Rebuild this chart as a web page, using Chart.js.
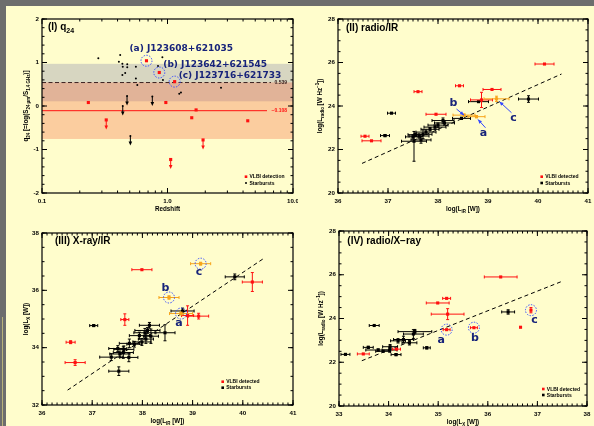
<!DOCTYPE html>
<html>
<head>
<meta charset="utf-8">
<script src="https://cdn.jsdelivr.net/npm/chart.js@4.4.1/dist/chart.umd.min.js"></script>
<style>
body { margin: 0; width: 594px; height: 426px; overflow: hidden; position: relative; background: #6d6d6d; }
#paper { position: absolute; left: 6px; top: 6px; width: 588px; height: 420px; background: #fffdcc; }
#streak { position: absolute; left: 2px; top: 317px; width: 1px; height: 109px; background: #b9b37a; }
canvas { position: absolute; }
</style>
</head>
<body>
<div id="paper"></div>
<div id="streak"></div>
<canvas id="c1"></canvas>
<canvas id="c2"></canvas>
<canvas id="c3"></canvas>
<canvas id="c4"></canvas>
<script>
// ---- (I) q24 vs redshift : [z, q24]
const q24Starburst = [[0.281,1.10],[0.42,1.17],[0.41,1.02],[0.437,0.97],[0.478,0.96],[0.478,0.89],[0.44,0.90],
  [0.56,0.90],[0.46,0.76],[0.437,0.71],[0.56,0.63],[0.575,0.48],[0.91,1.12],[0.84,0.92],[0.92,0.60],
  [2.67,0.42],[1.24,0.28],[1.28,0.31]];
const q24StarburstLimit = [[0.476,0.23],[0.757,0.22],[0.44,0.0],[0.506,-0.69]];
const q24Vlbi = [[0.234,0.08],[0.97,0.08],[1.69,-0.09],[1.56,-0.27],[4.36,-0.34]];
const q24VlbiLimit = [[0.325,-0.32],[1.92,-0.78],[1.06,-1.23]];
const q24Marked = [[0.68,1.04],[0.86,0.77],[1.14,0.56]];
const q24Names = ['(a) J123608+621035', '(b) J123642+621545', '(c) J123716+621733'];
const q24Means = [0.539, -0.108];      // starburst mean, VLBI mean
const q24Spread = [0.43, 0.65];        // half widths of the shaded bands

// ---- (II) radio/IR : [logLIR, logLradio, xerr, yerr]
const radioIrVlbi = [[40.13,25.93,0.19,0],[39.08,24.76,0.18,0],[38.43,24.93,0.08,0],[37.6,24.66,0.08,0],
  [38.87,24.28,0.22,0.35],[37.96,23.62,0.2,0],[36.54,22.61,0.08,0],[36.67,22.4,0.19,0]];
const radioIrMarked = [[38.77,23.51,0.17,0.05],[38.52,23.58,0.22,0.05],[39.17,24.33,0.25,0.12]];
const radioIrStarburst = [[39.81,24.32,0.2,0.15],[37.07,23.67,0.08,0],[36.94,22.64,0.09,0.05],[38.81,24.2,0.2,0],
  [38.47,23.43,0.18,0.05],[38.1,23.33,0.22,0.12],[38.13,23.22,0.2,0.1],[38.0,23.12,0.2,0.1],
  [37.94,23.03,0.22,0.1],[37.84,22.93,0.18,0.08],[37.76,22.8,0.2,0.1],[37.7,22.7,0.18,0.2],
  [37.62,22.62,0.2,0.1],[37.55,22.68,0.15,0.08],[37.5,22.58,0.15,0.1],[37.66,22.44,0.2,0.15],
  [37.52,22.38,0.25,[0.92,0.45]]];
const radioIrFit = [[36.48,21.36],[40.47,25.47]];

// ---- (III) X-ray/IR : [logLIR, logLX, xerr, yerr]
const xrayIrVlbi = [[37.99,36.72,0.2,0],[40.19,36.29,0.2,0.33],[37.65,34.98,0.08,0.2],[38.9,35.12,0.12,0.34],
  [39.12,35.1,0.2,0.1],[36.57,34.19,0.09,0.05],[36.66,33.48,0.2,0.1]];
const xrayIrMarked = [[38.77,35.19,0.23,0.05],[38.53,35.75,0.2,0.06],[39.16,36.93,0.2,0.05]];
const xrayIrStarburst = [[39.84,36.47,0.19,0.1],[37.03,34.77,0.08,0.03],[38.8,35.28,0.23,0.1],[38.45,34.52,0.2,0.28],
  [37.53,33.18,0.2,0.15],[37.38,33.67,0.23,0.12],[37.51,33.97,0.18,0.1],[37.63,33.94,0.2,0.12],
  [37.74,34.15,0.2,0.15],[37.84,34.12,0.15,0.1],[37.94,34.42,0.2,0.12],[38.05,34.52,0.22,0.15],
  [38.14,34.78,0.2,0.1],[38.07,34.3,0.15,0.15],[38.17,34.4,0.15,0.25],[37.99,34.2,0.18,0.12],
  [37.55,33.78,0.2,0.1],[37.73,33.66,0.18,0.15],[37.62,33.83,0.2,0.2],[38.1,34.6,0.25,0.1]];
const xrayIrFit = [[36.51,32.52],[40.44,37.14]];

// ---- (IV) radio/X-ray : [logLX, logLradio, xerr, yerr]
const radioXVlbi = [[36.26,25.9,0.33,0],[34.99,24.71,0.23,0],[35.17,24.92,0.08,0],[35.19,24.2,0.33,0.25],
  [36.66,23.6,0,0],[34.16,22.6,0.08,0],[33.49,22.38,0.12,0]];
const radioXMarked = [[35.17,23.49,0.07,0],[35.72,23.58,0.07,0],[36.87,24.38,0,0.12]];
const radioXStarburst = [[36.41,24.3,0.13,0.1],[33.71,23.68,0.1,0],[33.13,22.36,0.09,0],[34.77,22.66,0.07,0.05],
  [34.15,22.35,0.1,0.05],[34.5,23.29,0.2,0.2],[34.53,23.4,0.34,0.1],[34.3,23.04,0.2,0.15],
  [34.42,22.89,0.15,0.1],[34.19,22.98,0.15,0.1],[34.03,22.71,0.15,0.1],[34.02,22.56,0.15,0.1],
  [33.79,22.56,0.25,0.05],[33.59,22.68,0.1,0.05],[33.89,22.5,0.15,0]];
const radioXFit = [[33.46,22.07],[37.52,25.72]];

const abc = ['a', 'b', 'c'];

// ---- styling
const RED = '#ff1010', ORANGE = '#f7a51c', NAVY = '#17237a', BLUE = '#3347ff';
const FONT = '"Liberation Sans", Arial, sans-serif';
const FONT2 = '"DejaVu Sans", sans-serif';

const pts = rows => rows.map(r => ({ x: r[0], y: r[1] }));
const errs = rows => rows.map(r => [r[2] || 0, r[3] || 0]);
const lo = e => Array.isArray(e) ? e[0] : e;
const hi = e => Array.isArray(e) ? e[1] : e;

function rich(ctx, segs, x, y, size, color, align, rot, family) {
  ctx.save();
  ctx.translate(x, y);
  if (rot) ctx.rotate(rot);
  const f = s => 'bold ' + (s[1] ? size * 0.7 : size) + 'px ' + (family || FONT);
  let w = 0;
  segs.forEach(s => { ctx.font = f(s); w += ctx.measureText(s[0]).width; });
  let cx = align === 'center' ? -w / 2 : (align === 'right' ? -w : 0);
  ctx.fillStyle = color;
  ctx.textBaseline = 'middle';
  ctx.textAlign = 'left';
  segs.forEach(s => {
    ctx.font = f(s);
    ctx.fillText(s[0], cx, (s[1] || 0) * size * 0.38);
    cx += ctx.measureText(s[0]).width;
  });
  ctx.restore();
}

function arrowHead(ctx, x, y, ang, len, half) {
  ctx.beginPath();
  ctx.moveTo(x, y);
  ctx.lineTo(x - len * Math.cos(ang) + half * Math.sin(ang), y - len * Math.sin(ang) - half * Math.cos(ang));
  ctx.lineTo(x - len * Math.cos(ang) - half * Math.sin(ang), y - len * Math.sin(ang) + half * Math.cos(ang));
  ctx.closePath();
  ctx.fill();
}

const decor = {
  id: 'decor',
  beforeDatasetsDraw(chart, args, o) {
    const { ctx, chartArea: a, scales: { y } } = chart;
    (o.bands || []).forEach(b => {
      const y1 = y.getPixelForValue(b.from), y2 = y.getPixelForValue(b.to);
      ctx.fillStyle = b.color;
      ctx.fillRect(a.left, y2, a.right - a.left, y1 - y2);
    });
    (o.hlines || []).forEach(h => {
      const py = y.getPixelForValue(h.value);
      ctx.save();
      ctx.strokeStyle = h.color;
      ctx.lineWidth = 1;
      ctx.setLineDash(h.dash || []);
      ctx.beginPath();
      ctx.moveTo(a.left, py);
      ctx.lineTo(a.right - h.gap, py);
      ctx.stroke();
      ctx.restore();
      ctx.fillStyle = h.color;
      ctx.font = 'bold 5px ' + FONT;
      ctx.textAlign = 'right';
      ctx.textBaseline = 'middle';
      ctx.fillText(h.tag, a.right - 6, py);
    });
  },
  beforeDatasetDraw(chart, args) {
    const ds = chart.data.datasets[args.index];
    const { ctx, scales: { x, y } } = chart;
    ctx.save();
    ctx.strokeStyle = ds.borderColor;
    ctx.fillStyle = ds.borderColor;
    ctx.lineWidth = 1;
    if (ds.err) {
      ds.data.forEach((p, i) => {
        const [xe, ye] = ds.err[i];
        const px = x.getPixelForValue(p.x), py = y.getPixelForValue(p.y);
        ctx.beginPath();
        if (xe) {
          const x1 = x.getPixelForValue(p.x - lo(xe)), x2 = x.getPixelForValue(p.x + hi(xe));
          ctx.moveTo(x1, py); ctx.lineTo(x2, py);
          ctx.moveTo(x1, py - 1.5); ctx.lineTo(x1, py + 1.5);
          ctx.moveTo(x2, py - 1.5); ctx.lineTo(x2, py + 1.5);
        }
        if (ye) {
          const y1 = y.getPixelForValue(p.y - lo(ye)), y2 = y.getPixelForValue(p.y + hi(ye));
          ctx.moveTo(px, y1); ctx.lineTo(px, y2);
          ctx.moveTo(px - 1.5, y1); ctx.lineTo(px + 1.5, y1);
          ctx.moveTo(px - 1.5, y2); ctx.lineTo(px + 1.5, y2);
        }
        ctx.stroke();
      });
    }
    if (ds.limit) {
      ds.data.forEach(p => {
        const px = x.getPixelForValue(p.x), py = y.getPixelForValue(p.y);
        ctx.beginPath();
        ctx.moveTo(px, py); ctx.lineTo(px, py + 7);
        ctx.stroke();
        arrowHead(ctx, px, py + 9.5, Math.PI / 2, 4, 1.8);
      });
    }
    ctx.restore();
  },
  afterDatasetsDraw(chart, args, o) {
    const { ctx, chartArea: a, scales: { x, y } } = chart;
    ctx.save();
    // dotted circles
    chart.data.datasets.forEach(ds => {
      if (!ds.circled) return;
      ds.data.forEach(p => {
        ctx.strokeStyle = BLUE;
        ctx.lineWidth = 1;
        ctx.setLineDash([1.4, 1.4]);
        ctx.beginPath();
        ctx.arc(x.getPixelForValue(p.x), y.getPixelForValue(p.y), 5.5, 0, Math.PI * 2);
        ctx.stroke();
      });
    });
    ctx.setLineDash([]);
    // arrows to sources
    (o.arrows || []).forEach(ar => {
      const x1 = x.getPixelForValue(ar.from[0]), y1 = y.getPixelForValue(ar.from[1]);
      const x2 = x.getPixelForValue(ar.to[0]), y2 = y.getPixelForValue(ar.to[1]);
      ctx.strokeStyle = BLUE; ctx.fillStyle = BLUE; ctx.lineWidth = 1;
      ctx.beginPath(); ctx.moveTo(x1, y1); ctx.lineTo(x2, y2); ctx.stroke();
      arrowHead(ctx, x2, y2, Math.atan2(y2 - y1, x2 - x1), 4, 1.8);
    });
    // notes
    (o.notes || []).forEach(n => {
      ctx.fillStyle = NAVY;
      ctx.font = 'bold ' + n.size + 'px ' + FONT2;
      ctx.textAlign = n.align || 'center';
      ctx.textBaseline = 'middle';
      ctx.fillText(n.text, x.getPixelForValue(n.x) + (n.dx || 0), y.getPixelForValue(n.y) + (n.dy || 0));
    });
    // frame
    ctx.strokeStyle = '#000';
    ctx.lineWidth = 1.2;
    ctx.strokeRect(a.left, a.top, a.right - a.left, a.bottom - a.top);
    ctx.lineWidth = 1;
    const tickX = (v, len) => {
      const px = x.getPixelForValue(v);
      ctx.moveTo(px, a.bottom); ctx.lineTo(px, a.bottom - len);
      ctx.moveTo(px, a.top); ctx.lineTo(px, a.top + len);
    };
    const tickY = (v, len) => {
      const py = y.getPixelForValue(v);
      ctx.moveTo(a.left, py); ctx.lineTo(a.left + len, py);
      ctx.moveTo(a.right, py); ctx.lineTo(a.right - len, py);
    };
    ctx.beginPath();
    x.ticks.forEach(t => tickX(t.value, 5));
    y.ticks.forEach(t => tickY(t.value, 5));
    if (o.xMinor === 'log') {
      for (let d = x.min; d < x.max * 0.999; d *= 10)
        for (let k = 2; k <= 9; k++) tickX(d * k, 2.5);
    } else {
      const n = Math.round((x.max - x.min) / o.xMinor);
      for (let k = 0; k <= n; k++) tickX(x.min + k * o.xMinor, 2.5);
    }
    const ny = Math.round((y.max - y.min) / o.yMinor);
    for (let k = 0; k <= ny; k++) tickY(y.min + k * o.yMinor, 2.5);
    ctx.stroke();
    // panel label and axis titles
    rich(ctx, o.label, a.left + o.labelAt[0], a.top + o.labelAt[1], 10, '#000', 'left');
    rich(ctx, o.xTitle, (a.left + a.right) / 2, a.bottom + 16.5, 6.3, '#000', 'center');
    rich(ctx, o.yTitle, a.left - o.yTitleGap, (a.top + a.bottom) / 2, 6.3, '#000', 'center', -Math.PI / 2);
    // legend
    const L = o.legend;
    L.items.forEach((it, i) => {
      const lx = a.right - L.dx, ly = a.bottom - L.dy + i * L.step;
      ctx.fillStyle = it.color;
      if (it.dot) { ctx.beginPath(); ctx.arc(lx, ly, 1, 0, Math.PI * 2); ctx.fill(); }
      else ctx.fillRect(lx - 1.3, ly - 1.3, 2.6, 2.6);
      ctx.fillStyle = '#000';
      ctx.font = 'bold 5px ' + FONT;
      ctx.textAlign = 'left';
      ctx.textBaseline = 'middle';
      ctx.fillText(it.label, lx + 3.5, ly + 0.3);
    });
    ctx.restore();
  }
};

function ptSet(rows, color, extra) {
  return Object.assign({
    data: pts(rows), err: errs(rows), borderColor: color, backgroundColor: color,
    pointStyle: 'rect', pointRadius: 2.2, borderWidth: 0
  }, extra || {});
}

function fitSet(rows) {
  return {
    data: pts(rows), showLine: true, pointRadius: 0, borderColor: '#000', borderWidth: 1,
    borderDash: [4, 3], order: 9
  };
}

function makePanel(id, box, area, xs, ys, datasets, opts) {
  const cv = document.getElementById(id);
  cv.style.left = box[0] + 'px';
  cv.style.top = box[1] + 'px';
  cv.width = box[2] - box[0];
  cv.height = box[3] - box[1];
  const yW = area[0] - box[0], xH = box[3] - area[3];
  const tickFont = { family: FONT, size: 6.2, weight: 'bold' };
  new Chart(cv, {
    type: 'scatter',
    data: { datasets },
    options: {
      responsive: false,
      animation: false,
      events: [],
      layout: { padding: { top: area[1] - box[1], right: box[2] - area[2], left: 0, bottom: 0 } },
      plugins: { legend: { display: false }, tooltip: { enabled: false }, decor: opts },
      scales: {
        x: Object.assign({
          grid: { display: false, drawTicks: false },
          border: { display: false },
          afterFit(s) { s.height = xH; s.paddingLeft = 0; s.paddingRight = 0; }
        }, xs, { ticks: Object.assign({ font: tickFont, color: '#000', padding: 5, maxRotation: 0, autoSkip: false }, xs.ticks || {}) }),
        y: Object.assign({
          grid: { display: false, drawTicks: false },
          border: { display: false },
          afterFit(s) { s.width = yW; s.paddingTop = 0; s.paddingBottom = 0; }
        }, ys, { ticks: Object.assign({ font: tickFont, color: '#000', padding: 3, autoSkip: false }, ys.ticks || {}) })
      }
    },
    plugins: [decor]
  });
}

const legendVlbi = (word) => [{ label: 'VLBI ' + word, color: RED }, { label: 'Starbursts', color: '#000', dot: word === 'detection' }];
const radioTitle = [['log(L', 0], ['radio', 1], [' [W Hz', 0], ['\u22121', -1], ['])', 0]];

// (I)
makePanel('c1', [6, 6, 298, 214], [42, 19, 293, 193],
  { type: 'logarithmic', min: 0.1, max: 10,
    afterBuildTicks(s) { s.ticks = [0.1, 1, 10].map(v => ({ value: v })); },
    ticks: { callback: v => Number(v).toFixed(1) } },
  { min: -2, max: 2, ticks: { stepSize: 1 } },
  [
    Object.assign(ptSet(q24Marked.map(r => [r[0], r[1]]), RED), { err: null, circled: true, order: 0 }),
    Object.assign(ptSet(q24Vlbi, RED), { err: null, order: 1 }),
    Object.assign(ptSet(q24VlbiLimit, RED), { err: null, limit: true, order: 1 }),
    { data: pts(q24Starburst), pointRadius: 1, backgroundColor: '#000', borderColor: '#000', borderWidth: 0, order: 2 },
    { data: pts(q24StarburstLimit), pointRadius: 1, backgroundColor: '#000', borderColor: '#000', borderWidth: 0, limit: true, order: 2 }
  ],
  {
    bands: [
      { from: q24Means[0] - q24Spread[0], to: q24Means[0] + q24Spread[0], color: 'rgba(150,150,175,0.38)' },
      { from: q24Means[1] - q24Spread[1], to: q24Means[1] + q24Spread[1], color: 'rgba(245,120,80,0.36)' }
    ],
    hlines: [
      { value: q24Means[0], color: '#3a2020', dash: [4, 2.5], gap: 22, tag: q24Means[0].toFixed(3) },
      { value: q24Means[1], color: RED, gap: 26, tag: '\u2212' + Math.abs(q24Means[1]).toFixed(3) }
    ],
    notes: q24Marked.map((p, i) => ({ text: q24Names[i], x: p[0], y: p[1], size: 9, align: 'left',
      dx: [-17, 4, 4][i], dy: [-12, -7.5, -6][i] })),
    xMinor: 'log', yMinor: 0.2,
    label: [['(I) q', 0], ['24', 1]], labelAt: [6, 8],
    xTitle: [['Redshift', 0]],
    yTitle: [['q', 0], ['24', 1], [' [=log(S', 0], ['24 \u03bcm', 1], ['/S', 0], ['1.4 GHz', 1], [')]', 0]], yTitleGap: 16,
    legend: { dx: 47, dy: 16.3, step: 6.4, items: legendVlbi('detection') }
  });

// (II)
makePanel('c2', [298, 6, 594, 214], [338, 19, 588, 193],
  { min: 36, max: 41, ticks: { stepSize: 1 } },
  { min: 20, max: 28, ticks: { stepSize: 2 } },
  [
    ptSet(radioIrMarked, ORANGE, { order: 0 }),
    ptSet(radioIrVlbi, RED, { order: 1 }),
    ptSet(radioIrStarburst, '#000', { order: 2 }),
    fitSet(radioIrFit)
  ],
  {
    notes: [
      { text: 'b', x: 38.31, y: 24.12, size: 11 },
      { text: 'a', x: 38.91, y: 22.74, size: 11 },
      { text: 'c', x: 39.51, y: 23.43, size: 11 }
    ],
    arrows: [
      { from: [38.37, 23.86], to: [radioIrMarked[1][0], radioIrMarked[1][1]] },
      { from: [38.95, 23.0], to: [38.8, 23.38] },
      { from: [39.47, 23.69], to: [39.23, 24.2] }
    ],
    xMinor: 0.1, yMinor: 0.5,
    label: [['(II) radio/IR', 0]], labelAt: [8, 9.3],
    xTitle: [['log(L', 0], ['IR', 1], [' [W])', 0]],
    yTitle: radioTitle, yTitleGap: 18,
    legend: { dx: 46.3, dy: 16.3, step: 6.3, items: legendVlbi('detected') }
  });

// (III)
makePanel('c3', [6, 214, 298, 426], [42, 233, 293, 405],
  { min: 36, max: 41, ticks: { stepSize: 1 } },
  { min: 32, max: 38, ticks: { stepSize: 2 } },
  [
    ptSet(xrayIrMarked, ORANGE, { order: 0, circled: true }),
    ptSet(xrayIrVlbi, RED, { order: 1 }),
    ptSet(xrayIrStarburst, '#000', { order: 2 }),
    fitSet(xrayIrFit)
  ],
  {
    notes: [
      { text: 'a', x: 38.73, y: 34.87, size: 11 },
      { text: 'b', x: 38.46, y: 36.07, size: 11 },
      { text: 'c', x: 39.13, y: 36.64, size: 11 }
    ],
    xMinor: 0.1, yMinor: 0.5,
    label: [['(III) X-ray/IR', 0]], labelAt: [13, 8.7],
    xTitle: [['log(L', 0], ['IR', 1], [' [W])', 0]],
    yTitle: [['log(L', 0], ['X', 1], [' [W])', 0]], yTitleGap: 16,
    legend: { dx: 70.3, dy: 23.3, step: 6, items: legendVlbi('detected') }
  });

// (IV)
makePanel('c4', [298, 214, 594, 426], [339, 231, 587, 406],
  { min: 33, max: 38, ticks: { stepSize: 1 } },
  { min: 20, max: 28, ticks: { stepSize: 2 } },
  [
    ptSet(radioXMarked, RED, { order: 0, circled: true }),
    ptSet(radioXVlbi, RED, { order: 1 }),
    ptSet(radioXStarburst, '#000', { order: 2 }),
    fitSet(radioXFit)
  ],
  {
    notes: [
      { text: 'a', x: 35.06, y: 23.02, size: 11 },
      { text: 'b', x: 35.74, y: 23.1, size: 11 },
      { text: 'c', x: 36.94, y: 23.93, size: 11 }
    ],
    xMinor: 0.1, yMinor: 0.5,
    label: [['(IV) radio/X\u2212ray', 0]], labelAt: [8.3, 10.7],
    xTitle: [['log(L', 0], ['X', 1], [' [W])', 0]],
    yTitle: radioTitle, yTitleGap: 18,
    legend: { dx: 43.7, dy: 17, step: 6, items: legendVlbi('detected') }
  });
</script>
</body>
</html>
